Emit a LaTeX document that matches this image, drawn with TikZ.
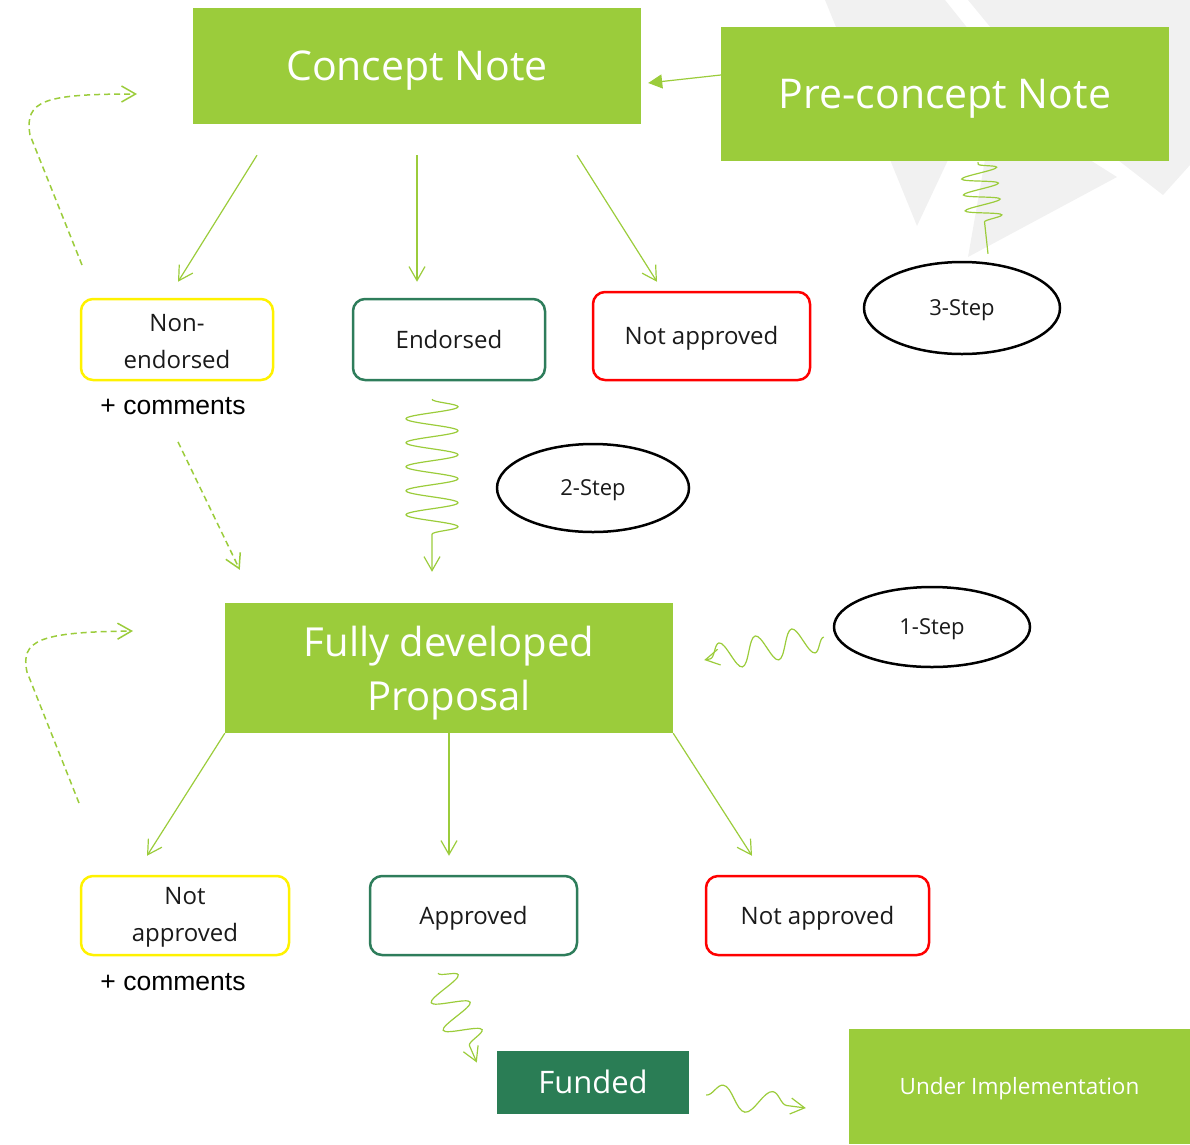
\documentclass[tikz,border=0pt]{standalone}
\usepackage{fontspec}
\setmainfont{Open Sans}
\newfontfamily\arialfont{Liberation Sans}
\usepackage{tikz}
\usetikzlibrary{arrows.meta,decorations.pathmorphing,shapes.geometric}

\definecolor{leaf}{HTML}{9BCC3B}
\definecolor{forest}{HTML}{2A7D55}
\definecolor{boxgreen}{HTML}{2E7D5B}
\definecolor{paleback}{HTML}{F1F1F1}
\definecolor{ink}{HTML}{1A1A1A}

\tikzset{
  bigbox/.style={rectangle, fill=leaf, text=white, inner sep=0pt, align=center},
  statebox/.style={rectangle, rounded corners=12pt, line width=2.5pt, fill=white, text=ink,
    inner sep=0pt, align=center, minimum height=80pt, font=\fontsize{24}{37}\selectfont},
  stepoval/.style={ellipse, draw=black, line width=2.5pt, inner sep=0pt, text=ink,
    font=\fontsize{22}{26}\selectfont, text height=15.8pt, text depth=0pt},
  oneline/.style={text height=#1, text depth=0pt},
  remark/.style={inner sep=0pt, text=black, font=\arialfont\fontsize{26.5}{30}\selectfont},
  flow/.style={draw=leaf, line width=1.2pt, -{Straight Barb[length=14pt,width=16pt]}},
  backloop/.style={flow, line width=1.5pt, dash pattern=on 6pt off 4pt},
  wiggle/.style={flow, decorate, decoration={snake, #1}}
}

\begin{document}
\begin{tikzpicture}[x=1pt,y=-1pt]
\useasboundingbox (0,0) rectangle (1190,1144);
% faint shapes behind the top right box
\fill[paleback] (825,0) -- (945,0) -- (985,50) -- (948,160) -- (917,226) -- cycle;
\fill[paleback] (968,0) -- (1190,0) -- (1190,30) -- (1090,160) -- (1117,177) -- (968,257) -- (1005,45) -- cycle;
\fill[paleback] (1190,25) -- (1190,165) -- (1163,195) -- (1105,150) -- cycle;

% main stages
\node[bigbox, oneline=29.5pt, minimum width=448pt, minimum height=116pt, font=\fontsize{41}{50}\selectfont] (concept) at (417,66) {Concept Note};
\node[bigbox, oneline=29.5pt, minimum width=448pt, minimum height=134pt, font=\fontsize{41}{50}\selectfont] (preconcept) at (945,94) {Pre-concept Note};
\node[bigbox, minimum width=448pt, minimum height=130pt, font=\fontsize{40}{54}\selectfont] (proposal) at (449,668) {\rule{0pt}{40pt}Fully developed\\Proposal};
\node[bigbox, oneline=22.3pt, fill=forest, minimum width=192pt, minimum height=63pt, font=\fontsize{31}{36}\selectfont] (funded) at (593,1082.5) {Funded};
\node[bigbox, oneline=16.2pt, minimum width=341pt, minimum height=115pt, font=\fontsize{22.5}{27}\selectfont] (underimpl) at (1019.5,1086.5) {Under Implementation};

% outcomes of the concept note
\node[statebox, draw=yellow, minimum width=192pt, minimum height=81pt] (nonendorsed) at (177,339.5) {\rule{0pt}{21pt}Non-\\endorsed};
\node[remark] (nonendnote) at (173,406) {+ comments};
\node[statebox, oneline=17.3pt, draw=boxgreen, minimum width=192pt, minimum height=81pt] (endorsed) at (449,339.5) {Endorsed};
\node[statebox, oneline=17.3pt, draw=red, minimum width=217pt, minimum height=88pt] (rejectcn) at (701.5,336) {Not approved};

% outcomes of the proposal
\node[statebox, draw=yellow, minimum width=208pt, minimum height=79pt] (notapproved) at (185,915.5) {\rule{0pt}{21pt}Not\\approved};
\node[remark] (notapnote) at (173,982) {+ comments};
\node[statebox, oneline=17.3pt, draw=boxgreen, minimum width=207pt, minimum height=79pt] (approved) at (473.5,915.5) {Approved};
\node[statebox, oneline=17.3pt, draw=red, minimum width=223pt, minimum height=79pt] (rejectfp) at (817.5,915.5) {Not approved};

% step ovals
\node[stepoval, minimum width=196pt, minimum height=92pt] (step3) at (962,308) {3-Step};
\node[stepoval, minimum width=192pt, minimum height=88pt] (step2) at (593,488) {2-Step};
\node[stepoval, minimum width=196pt, minimum height=80pt] (step1) at (932,627) {1-Step};

% loop ends
\coordinate (loopafrom) at (82,265);
\coordinate (loopato) at (137,94);
\coordinate (loopbfrom) at (79,803);
\coordinate (loopbto) at (133,631);

% straight connectors
\draw[draw=leaf, line width=1.2pt, -{Triangle[length=14pt,width=14pt]}] ([yshift=19pt]preconcept.west) -- ([xshift=7pt,yshift=-17pt]concept.east);
\draw[flow] ([xshift=-160pt,yshift=-31pt]concept.south) -- ([xshift=1pt,yshift=16pt]nonendorsed.north);
\draw[flow] ([yshift=-31pt]concept.south) -- ([xshift=-32pt,yshift=16pt]endorsed.north);
\draw[flow] ([xshift=160pt,yshift=-31pt]concept.south) -- ([xshift=-44.5pt,yshift=9pt]rejectcn.north);
\draw[flow] (proposal.south west) -- ([xshift=-38pt,yshift=19pt]notapproved.north);
\draw[flow] (proposal.south) -- ([xshift=-24.5pt,yshift=19pt]approved.north);
\draw[flow] (proposal.south east) -- ([xshift=-65.5pt,yshift=19pt]rejectfp.north);

% dashed returns
\draw[backloop] (loopafrom) -- (30,135) .. controls (24,100) and (45,94) .. (loopato);
\draw[backloop] (loopbfrom) -- (27,672) .. controls (20,640) and (40,632) .. (loopbto);
\draw[backloop] ([xshift=5pt,yshift=-27pt]nonendnote.south) -- ([xshift=15pt,yshift=33pt]proposal.north west);

% wavy connectors
\draw[draw=leaf, line width=1.2pt, decorate, decoration={snake, amplitude=18pt, segment length=16pt, post length=26pt, pre length=2pt}] ([xshift=33pt,yshift=-1pt]preconcept.south) -- ([xshift=26pt,yshift=7pt]step3.north);
\draw[wiggle={amplitude=26pt, segment length=24pt, post length=30pt}] ([xshift=-17pt,yshift=-18pt]endorsed.south) -- ([xshift=-17pt,yshift=31pt]proposal.north);
\draw[wiggle={amplitude=14pt, segment length=37pt, post length=4pt}] ([xshift=-9pt,yshift=-10pt]step1.west) -- ([xshift=31pt,yshift=8pt]proposal.east);
\draw[wiggle={amplitude=18pt, segment length=30pt, post length=6pt}] ([xshift=-35.5pt,yshift=-17pt]approved.south) -- ([xshift=-20pt,yshift=20pt]funded.west);
\draw[wiggle={amplitude=12pt, segment length=50pt, post length=4pt}] ([xshift=17pt,yshift=-12.5pt]funded.east) -- ([xshift=-43pt,yshift=-21.5pt]underimpl.west);
\end{tikzpicture}
\end{document}
